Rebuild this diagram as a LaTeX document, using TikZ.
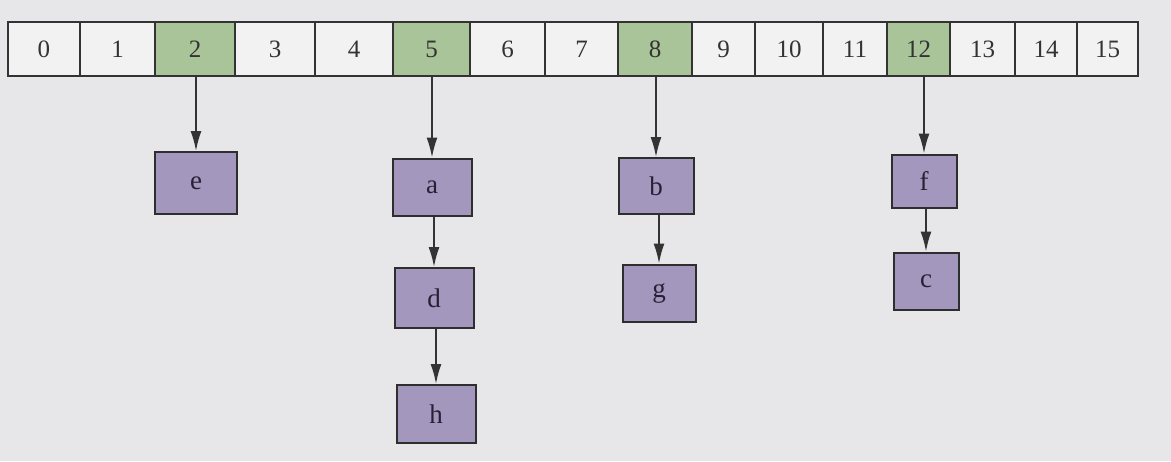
\documentclass[tikz,border=0pt]{standalone}
\usepackage{fontspec}
\setmainfont{Liberation Serif}
\usetikzlibrary{arrows.meta}
\definecolor{bg}{HTML}{E7E7E9}
\definecolor{cellw}{HTML}{F2F2F2}
\definecolor{cellg}{HTML}{A9C499}
\definecolor{boxp}{HTML}{A497BE}
\definecolor{ink}{HTML}{333333}
\definecolor{boxtxt}{HTML}{2A2035}
\begin{document}
\begin{tikzpicture}[x=1pt,y=-1pt,
  cellbox/.style={draw=ink, line width=1.6pt, fill=cellw, inner sep=0pt,
    minimum height=54pt, text=ink, font=\fontsize{25}{30}\selectfont},
  hot/.style={fill=cellg},
  itembox/.style={draw=ink!90!black, line width=2pt, fill=boxp, inner sep=0pt,
    text=boxtxt, font=\fontsize{27}{30}\selectfont},
  arr/.style={draw=ink, line width=1.8pt, -{Latex[length=20pt,width=11pt]}}]
\useasboundingbox[fill=bg] (0,0) rectangle (1171,461);
% array cells
\foreach \i/\l/\r in {0/8/80,1/80/155,3/235/315,4/315/393,6/470/545,7/545/618,
    9/692/755,10/755/823,11/823/887,13/950/1015,14/1015/1077,15/1077/1138}
  \node[cellbox, minimum width={(\r-\l)*1pt}] (c\i) at ({(\l+\r)/2},49) {\i};
\foreach \i/\l/\r in {2/155/235,5/393/470,8/618/692,12/887/950}
  \node[cellbox, hot, minimum width={(\r-\l)*1pt}] (c\i) at ({(\l+\r)/2},49) {\i};
% item boxes
\node[itembox, minimum width=82pt, minimum height=62pt] (e) at (196,183) {e};
\node[itembox, minimum width=79pt, minimum height=57pt] (a) at (432,187) {a};
\node[itembox, minimum width=79pt, minimum height=60pt] (d) at (434,298) {d};
\node[itembox, minimum width=79pt, minimum height=58pt] (h) at (436,414) {h};
\node[itembox, minimum width=75pt, minimum height=56pt] (b) at (656,186) {b};
\node[itembox, minimum width=73pt, minimum height=57pt] (g) at (659,293) {g};
\node[itembox, minimum width=65pt, minimum height=53pt] (f) at (924,181) {f};
\node[itembox, minimum width=65pt, minimum height=57pt] (c) at (926,281) {c};
% connectors
\draw[arr] (c2.south -| e) -- (e.north);
\draw[arr] (c5.south -| a) -- (a.north);
\draw[arr] (c8.south -| b) -- (b.north);
\draw[arr] (c12.south -| f) -- (f.north);
\draw[arr] (a.south -| d) -- (d.north);
\draw[arr] (d.south -| h) -- (h.north);
\draw[arr] (b.south -| g) -- (g.north);
\draw[arr] (f.south -| c) -- (c.north);
\end{tikzpicture}
\end{document}
